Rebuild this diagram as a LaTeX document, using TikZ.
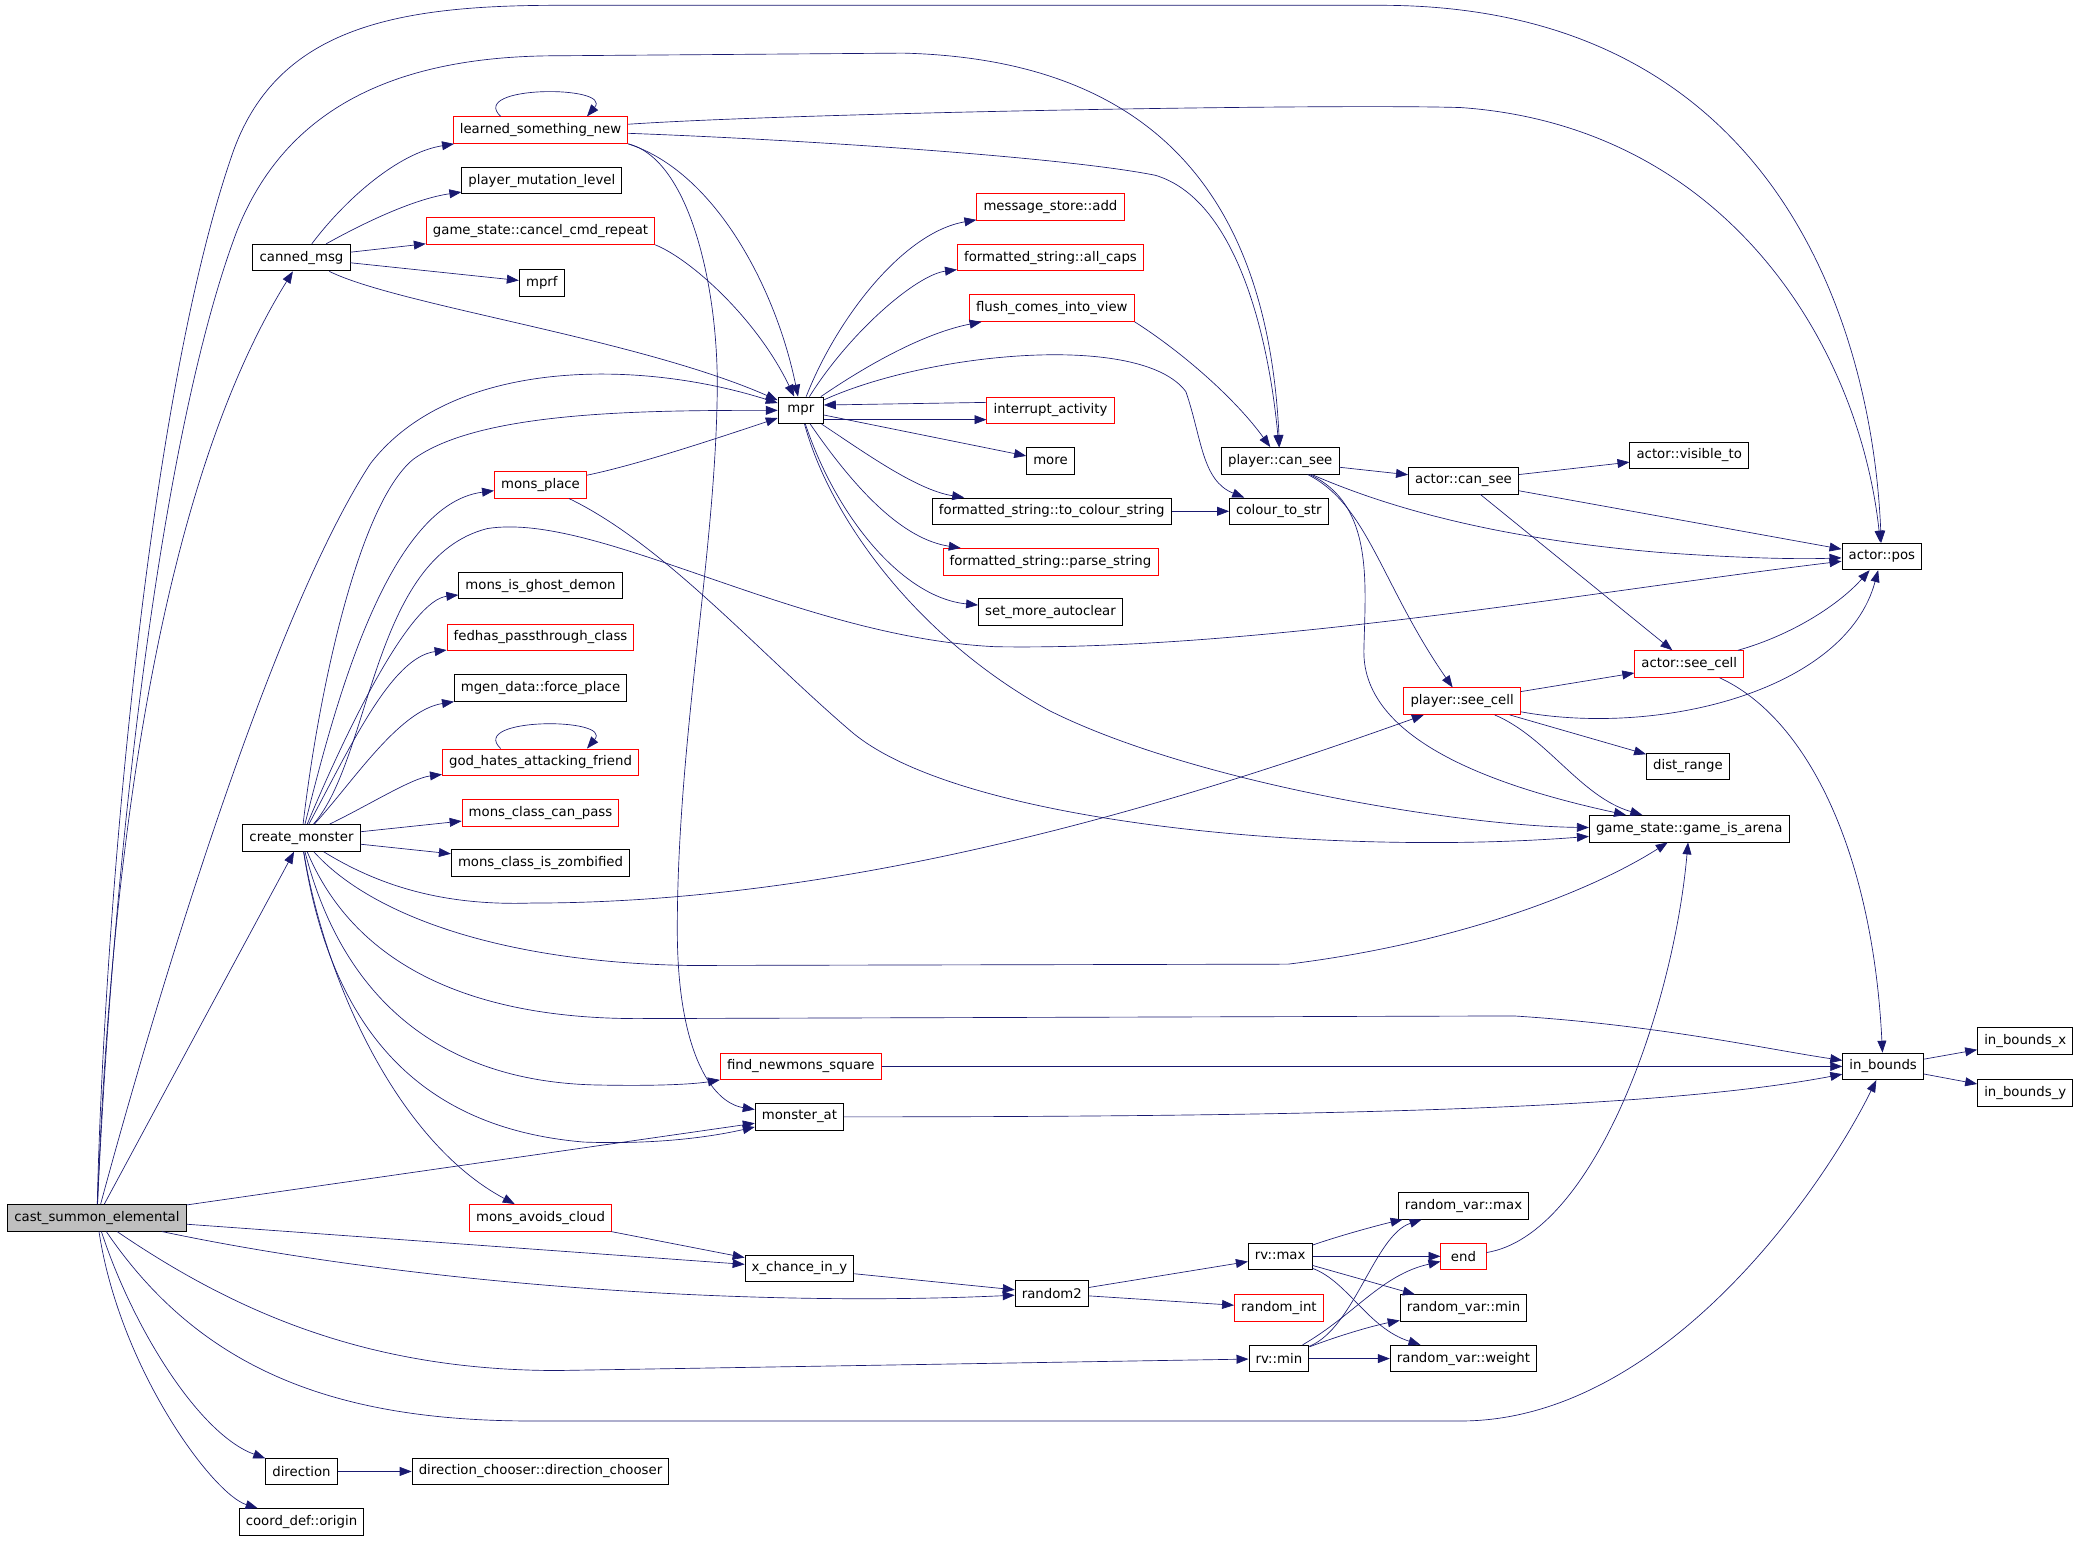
\documentclass[tikz,border=0pt]{standalone}
\usepackage{fontspec}
\setmainfont{DejaVu Sans}
\usepackage{tikz}
\usetikzlibrary{arrows.meta}
\definecolor{edgeblue}{HTML}{191970}

\begin{document}
\begin{tikzpicture}[->,>={Triangle[length=9pt,width=6.7pt]},x=1pt,y=-1pt,color=edgeblue,line width=0.5pt]
	\tikzstyle{fn}=[draw=black,text=black,fill=white,rectangle,line width=0.7pt,minimum height=20pt,minimum width=34pt,inner xsep=5pt,inner ysep=0pt,font=\fontsize{10}{12}\selectfont]
	\tikzstyle{fnred}=[fn,draw=red]
	\tikzstyle{fnroot}=[fn,fill=gray!50]

	\useasboundingbox (0,0) rectangle (1568.5,1160.4);

	\node[fnroot] (cse)        at (73,917)   {cast\_summon\_elemental};
	\node[fn]     (canned)     at (227,194)  {canned\_msg};
	\node[fn]     (createm)    at (227,631)  {create\_monster};
	\node[fn]     (direction)  at (227,1108) {direction};
	\node[fn]     (origin)     at (227,1146) {coord\_def::origin};

	\node[fnred]  (lsn)        at (407,98)   {learned\_something\_new};
	\node[fn]     (pml)        at (408,136)  {player\_mutation\_level};
	\node[fnred]  (gscc)       at (407,174)  {game\_state::cancel\_cmd\_repeat};
	\node[fn]     (mprf)       at (408,213)  {mprf};
	\node[fnred]  (monsplace)  at (407,365)  {mons\_place};
	\node[fn]     (ghost)      at (407,441)  {mons\_is\_ghost\_demon};
	\node[fnred]  (fedhas)     at (407,480)  {fedhas\_passthrough\_class};
	\node[fn]     (force)      at (407,518)  {mgen\_data::force\_place};
	\node[fnred]  (godhates)   at (407,574)  {god\_hates\_attacking\_friend};
	\node[fnred]  (canpass)    at (407,612)  {mons\_class\_can\_pass};
	\node[fn]     (zombified)  at (407,650)  {mons\_class\_is\_zombified};
	\node[fnred]  (avoids)     at (407,917)  {mons\_avoids\_cloud};
	\node[fn]     (dirchooser) at (407,1108) {direction\_chooser::direction\_chooser};

	\node[fn]     (mpr)        at (603,309)  {mpr};
	\node[fnred]  (findnew)    at (603,803)  {find\_newmons\_square};
	\node[fn]     (monsterat)  at (602,841)  {monster\_at};
	\node[fn]     (xchance)    at (602,955)  {x\_chance\_in\_y};

	\node[fnred]  (msadd)      at (791,156)  {message\_store::add};
	\node[fnred]  (allcaps)    at (791,194)  {formatted\_string::all\_caps};
	\node[fnred]  (flush)      at (792,232)  {flush\_comes\_into\_view};
	\node[fnred]  (interrupt)  at (791,309)  {interrupt\_activity};
	\node[fn]     (more)       at (791,347)  {more};
	\node[fn]     (tocolour)   at (792,385)  {formatted\_string::to\_colour\_string};
	\node[fnred]  (parse)      at (791,423)  {formatted\_string::parse\_string};
	\node[fn]     (autoclear)  at (791,461)  {set\_more\_autoclear};
	\node[fn]     (random2)    at (792,974)  {random2};

	\node[fn]     (pcansee)    at (964,347)  {player::can\_see};
	\node[fn]     (colourstr)  at (963,385)  {colour\_to\_str};
	\node[fn]     (rvmax)      at (964,946)  {rv::max};
	\node[fnred]  (randint)    at (963,985)  {random\_int};
	\node[fn]     (rvmin)      at (963,1023) {rv::min};

	\node[fn]     (acansee)    at (1102,362) {actor::can\_see};
	\node[fnred]  (pseecell)   at (1101,528) {player::see\_cell};
	\node[fn]     (rvarmax)    at (1102,908) {random\_var::max};
	\node[fnred]  (endit)      at (1102,946) {end};
	\node[fn]     (rvarmin)    at (1102,985) {random\_var::min};
	\node[fn]     (rvarweight) at (1102,1023) {random\_var::weight};

	\node[fn]     (visible)    at (1272,343) {actor::visible\_to};
	\node[fnred]  (aseecell)   at (1272,500) {actor::see\_cell};
	\node[fn]     (dist)       at (1271,577) {dist\_range};
	\node[fn]     (arena)      at (1272,624) {game\_state::game\_is\_arena};

	\node[fn]     (apos)       at (1417,419) {actor::pos};
	\node[fn]     (inbounds)   at (1418,803) {in\_bounds};
	\node[fn]     (inbx)       at (1525,784) {in\_bounds\_x};
	\node[fn]     (inby)       at (1525,823) {in\_bounds\_y};

	% cast_summon_elemental
	\draw (cse) .. controls (78,700) and (110,300) .. (176,113) .. controls (210,20) and (300,4) .. (420,4) -- (1040,4) .. controls (1340,4) and (1410,250) .. (apos);
	\draw (cse) .. controls (85,650) and (120,330) .. (178,175) .. controls (215,80) and (300,42) .. (420,42) -- (680,40) .. controls (880,45) and (955,160) .. (pcansee);
	\draw (cse) .. controls (85,600) and (130,350) .. (canned);
	\draw (cse) .. controls (110,780) and (200,470) .. (279,349) .. controls (340,270) and (480,270) .. (mpr);
	\draw (cse) -- (createm);
	\draw (cse) -- (monsterat);
	\draw (cse) -- (xchance);
	\draw (cse) .. controls (300,965) and (550,985) .. (random2);
	\draw (cse) .. controls (180,990) and (280,1032) .. (420,1032) -- (rvmin);
	\draw (cse) .. controls (150,1030) and (250,1070) .. (400,1070) -- (1100,1070) .. controls (1250,1070) and (1370,900) .. (inbounds);
	\draw (cse) .. controls (100,1000) and (150,1080) .. (direction);
	\draw (cse) .. controls (90,1030) and (160,1125) .. (origin);

	% canned_msg
	\draw (canned) .. controls (260,150) and (300,115) .. (lsn);
	\draw (canned) .. controls (270,170) and (310,150) .. (pml);
	\draw (canned) -- (gscc);
	\draw (canned) -- (mprf);
	\draw (canned) .. controls (300,230) and (480,255) .. (mpr);

	% learned_something_new
	\draw ([xshift=-30pt]lsn.north) .. controls (352,64) and (462,64) .. ([xshift=35pt]lsn.north);
	\draw (lsn) .. controls (600,85) and (1000,78) .. (1100,81) .. controls (1300,95) and (1400,260) .. (apos);
	\draw (lsn) .. controls (600,105) and (800,118) .. (870,132) .. controls (930,150) and (955,250) .. (pcansee);
	\draw (lsn.south east) .. controls (540,130) and (585,220) .. (mpr);
	\draw (lsn.south east) .. controls (520,120) and (542,220) .. (540,300) .. controls (538,420) and (510,560) .. (510,700) .. controls (510,790) and (535,830) .. (monsterat);

	\draw (gscc.south east) .. controls (520,195) and (570,240) .. (mpr);

	% mons_place
	\draw (monsplace) .. controls (480,350) and (540,330) .. (mpr);
	\draw (monsplace) .. controls (500,410) and (570,490) .. (640,550) .. controls (720,620) and (1000,645) .. (arena);

	% mpr
	\draw (mpr) .. controls (630,240) and (680,175) .. (msadd);
	\draw (mpr) .. controls (640,250) and (690,207) .. (allcaps);
	\draw (mpr) .. controls (660,270) and (700,250) .. (flush);
	\draw (mpr) .. controls (700,265) and (860,250) .. (893,295) .. controls (905,330) and (905,362) .. (colourstr);
	\draw ([yshift=-7pt]mpr.east) -- ([yshift=-7pt]interrupt.west);
	\draw ([yshift=6pt]interrupt.west) -- ([yshift=4pt]mpr.east);
	\draw (mpr) -- (more);
	\draw (mpr) .. controls (650,340) and (690,369) .. (tocolour);
	\draw (mpr) .. controls (645,370) and (680,406) .. (parse);
	\draw (mpr) .. controls (630,390) and (680,450) .. (autoclear);
	\draw (mpr) .. controls (625,390) and (690,480) .. (790,535) .. controls (900,590) and (1100,622) .. (arena);

	\draw (flush.south east) .. controls (890,265) and (930,300) .. (pcansee);
	\draw (tocolour) -- (colourstr);

	% player::can_see
	\draw (pcansee) -- (acansee);
	\draw (pcansee) .. controls (1040,380) and (1120,405) .. (1250,416) .. controls (1320,421) and (1360,421) .. (apos);
	\draw (pcansee) .. controls (1030,380) and (1040,440) .. (pseecell);
	\draw (pcansee) .. controls (1035,380) and (1028,440) .. (1027,490) .. controls (1026,560) and (1134,594) .. (arena);

	% actor::can_see
	\draw (acansee) -- (visible);
	\draw (acansee) -- (apos);
	\draw (acansee) -- (aseecell);

	% player::see_cell
	\draw (pseecell) -- (aseecell);
	\draw (pseecell) .. controls (1250,555) and (1390,520) .. (apos);
	\draw (pseecell) -- (dist);
	\draw (pseecell) .. controls (1165,555) and (1190,600) .. (arena);

	% actor::see_cell
	\draw (aseecell) .. controls (1350,478) and (1385,455) .. (apos);
	\draw (aseecell) .. controls (1360,540) and (1410,640) .. (inbounds);

	% create_monster
	\draw (createm) .. controls (240,520) and (270,380) .. (311,346) .. controls (360,310) and (480,309) .. (mpr);
	\draw (createm) .. controls (280,570) and (280,420) .. (367,398) .. controls (450,385) and (600,480) .. (750,487) .. controls (950,490) and (1200,445) .. (apos);
	\draw (createm) .. controls (250,540) and (290,380) .. (monsplace);
	\draw (createm) .. controls (265,540) and (310,452) .. (ghost);
	\draw (createm) .. controls (265,560) and (295,495) .. (fedhas);
	\draw (createm) .. controls (265,590) and (300,535) .. (force);
	\draw (createm) .. controls (280,605) and (310,586) .. (godhates);
	\draw ([xshift=-30pt]godhates.north) .. controls (352,540) and (462,540) .. ([xshift=35pt]godhates.north);
	\draw (createm) -- (canpass);
	\draw (createm) -- (zombified);
	\draw (createm) .. controls (290,670) and (340,682) .. (400,680) .. controls (650,680) and (900,600) .. (pseecell);
	\draw (createm) .. controls (280,690) and (380,725) .. (520,727) -- (970,726) .. controls (1100,710) and (1200,670) .. (arena);
	\draw (createm) .. controls (260,710) and (330,767) .. (480,767) -- (1140,765) .. controls (1250,772) and (1330,790) .. (inbounds);
	\draw (createm) .. controls (260,760) and (340,815) .. (450,817) .. controls (500,818) and (525,816) .. (findnew);
	\draw (createm) .. controls (250,780) and (320,850) .. (440,860) .. controls (500,862) and (540,855) .. (monsterat);
	\draw (createm) .. controls (245,740) and (300,860) .. (avoids);

	\draw (avoids) -- (xchance);
	\draw (xchance) -- (random2);
	\draw (random2) -- (rvmax);
	\draw (random2) -- (randint);

	% rv::max, rv::min
	\draw (rvmax) .. controls (1010,930) and (1040,922) .. (rvarmax);
	\draw (rvmax) -- (endit);
	\draw (rvmax) -- (rvarmin);
	\draw (rvmax) .. controls (1015,965) and (1030,1000) .. (rvarweight);
	\draw (rvmin) .. controls (1020,1000) and (1035,930) .. (rvarmax);
	\draw (rvmin) .. controls (1020,990) and (1040,960) .. (endit);
	\draw (rvmin) .. controls (1010,1005) and (1035,998) .. (rvarmin);
	\draw (rvmin) -- (rvarweight);
	\draw (endit) .. controls (1200,930) and (1260,760) .. (arena);

	% in_bounds
	\draw (monsterat) .. controls (1000,841) and (1250,835) .. (inbounds);
	\draw (findnew) -- (inbounds);
	\draw (inbounds) -- (inbx);
	\draw (inbounds) -- (inby);

	\draw (direction) -- (dirchooser);
\end{tikzpicture}
\end{document}
